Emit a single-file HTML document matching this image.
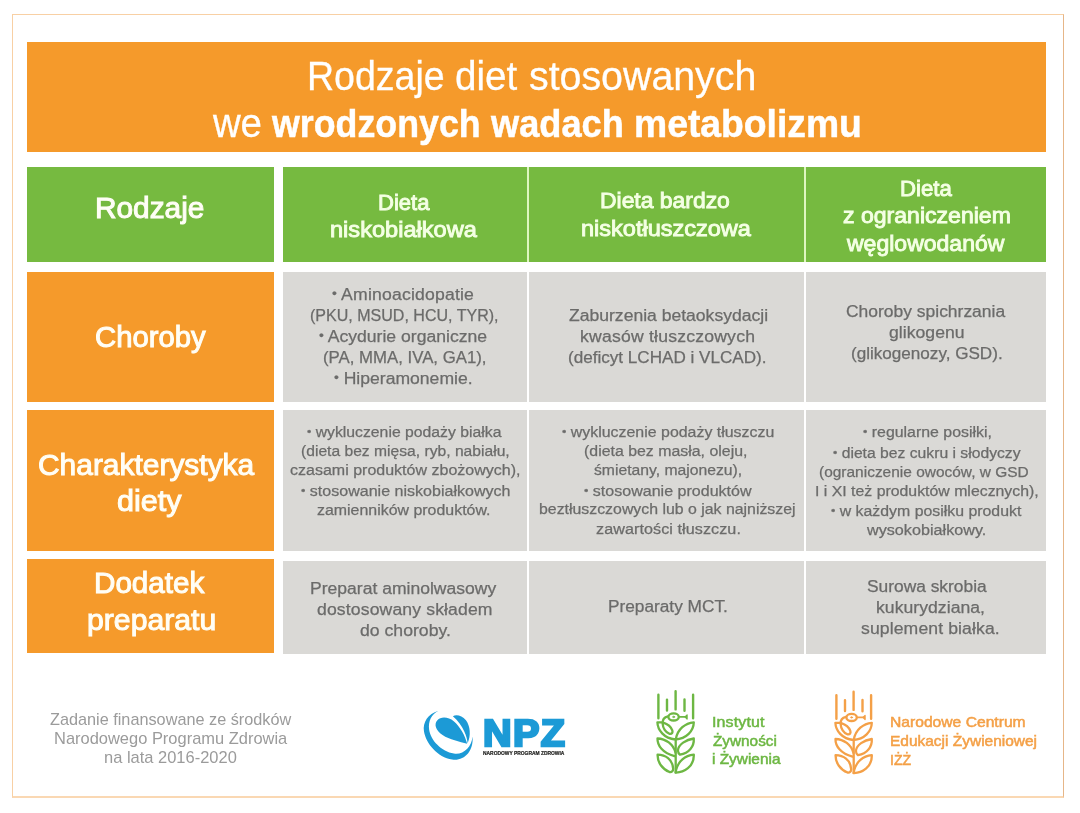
<!DOCTYPE html>
<html lang="pl"><head><meta charset="utf-8"><title>Rodzaje diet stosowanych we wrodzonych wadach metabolizmu</title>
<style>
*{margin:0;padding:0;box-sizing:border-box}
html,body{width:1080px;height:813px;background:#fff;overflow:hidden}
body{position:relative;font-family:"Liberation Sans",sans-serif}
.frame{position:absolute;left:12px;top:14px;width:1052px;height:784px;border:1px solid #f8d0a4;border-right-color:#e6b688;border-bottom:2px solid #fad8b3}
.bx{position:absolute}
.sep{background:#def6c0}.o{background:#f59a2b}.g{background:#76ba40}.s{background:#dad9d6}
.t{position:absolute;white-space:nowrap;line-height:1;font-weight:400;transform-origin:0 0}
.t i{font-style:normal;font-size:.78em;position:relative;top:-.15em}
.t b{font-weight:700}
.b{-webkit-text-stroke:.25px currentColor}
.tt{-webkit-text-stroke:.3px currentColor}
.tb{-webkit-text-stroke:.5px currentColor}
.npz{font-weight:700;-webkit-text-stroke:2.4px currentColor}
.tiny{font-weight:700;-webkit-text-stroke:.2px currentColor}
.lg{-webkit-text-stroke:.5px currentColor}
.m{-webkit-text-stroke:.9px currentColor}
.m2{-webkit-text-stroke:1px currentColor}
</style></head><body>
<div class="frame"></div>
<div class="bx sep" style="left:527px;top:167px;width:2px;height:95px"></div>
<div class="bx sep" style="left:804px;top:167px;width:2px;height:95px"></div>
<div class="bx o" style="left:27px;top:42px;width:1019px;height:109.5px"></div>
<div class="bx g" style="left:27px;top:167px;width:247px;height:95px"></div>
<div class="bx g" style="left:283px;top:167px;width:244px;height:95px"></div>
<div class="bx g" style="left:529px;top:167px;width:275px;height:95px"></div>
<div class="bx g" style="left:806px;top:167px;width:240px;height:95px"></div>
<div class="bx o" style="left:27px;top:272px;width:247px;height:130px"></div>
<div class="bx s" style="left:283px;top:272px;width:244px;height:130px"></div>
<div class="bx s" style="left:529px;top:272px;width:275px;height:130px"></div>
<div class="bx s" style="left:806px;top:272px;width:240px;height:130px"></div>
<div class="bx o" style="left:27px;top:410px;width:247px;height:141px"></div>
<div class="bx s" style="left:283px;top:410px;width:244px;height:141px"></div>
<div class="bx s" style="left:529px;top:410px;width:275px;height:141px"></div>
<div class="bx s" style="left:806px;top:410px;width:240px;height:141px"></div>
<div class="bx o" style="left:27px;top:559px;width:247px;height:94px"></div>
<div class="bx s" style="left:283px;top:560.5px;width:244px;height:93px"></div>
<div class="bx s" style="left:529px;top:560.5px;width:275px;height:93px"></div>
<div class="bx s" style="left:806px;top:560.5px;width:240px;height:93px"></div>
<div class="t tt" style="left:306.5px;top:56.0px;font-size:40px;letter-spacing:0.00px;color:#ffffff;transform:scaleX(0.938)">Rodzaje</div>
<div class="t tt" style="left:454.8px;top:56.0px;font-size:40px;letter-spacing:0.00px;color:#ffffff;transform:scaleX(0.964)">diet</div>
<div class="t tt" style="left:529.0px;top:56.0px;font-size:40px;letter-spacing:0.00px;color:#ffffff;transform:scaleX(0.983)">stosowanych</div>
<div class="t tt" style="left:212.5px;top:103.0px;font-size:40px;letter-spacing:-0.21px;color:#ffffff;transform:scaleX(0.960)">we</div>
<div class="t tb" style="left:271.7px;top:104.0px;font-size:39px;letter-spacing:0.00px;color:#ffffff;transform:scaleX(0.917)"><b>wrodzonych</b></div>
<div class="t tb" style="left:491.1px;top:104.0px;font-size:39px;letter-spacing:0.00px;color:#ffffff;transform:scaleX(0.928)"><b>wadach</b></div>
<div class="t tb" style="left:634.4px;top:104.0px;font-size:39px;letter-spacing:0.00px;color:#ffffff;transform:scaleX(0.956)"><b>metabolizmu</b></div>
<div class="t m" style="left:377.9px;top:192.0px;font-size:22px;letter-spacing:0.00px;color:#f4ffe4;transform:scaleX(1.002)">Dieta</div>
<div class="t m" style="left:329.9px;top:219.0px;font-size:22px;letter-spacing:0.00px;color:#f4ffe4;transform:scaleX(1.072)">niskobiałkowa</div>
<div class="t m" style="left:600.4px;top:190.0px;font-size:22px;letter-spacing:-0.00px;color:#f4ffe4;transform:scaleX(1.041)">Dieta bardzo</div>
<div class="t m" style="left:581.4px;top:218.0px;font-size:22px;letter-spacing:0.00px;color:#f4ffe4;transform:scaleX(1.069)">niskotłuszczowa</div>
<div class="t m" style="left:899.6px;top:178.0px;font-size:22px;letter-spacing:0.00px;color:#f4ffe4;transform:scaleX(1.008)">Dieta</div>
<div class="t m" style="left:842.8px;top:205.0px;font-size:22px;letter-spacing:0.00px;color:#f4ffe4;transform:scaleX(1.048)">z ograniczeniem</div>
<div class="t m" style="left:847.4px;top:233.0px;font-size:22px;letter-spacing:0.00px;color:#f4ffe4;transform:scaleX(1.046)">węglowodanów</div>
<div class="t m2" style="left:95.4px;top:194.0px;font-size:29px;letter-spacing:0.00px;color:#fffef6;transform:scaleX(1.028)">Rodzaje</div>
<div class="t m2" style="left:94.6px;top:323.0px;font-size:29px;letter-spacing:0.00px;color:#fffef6;transform:scaleX(1.009)">Choroby</div>
<div class="t m2" style="left:37.7px;top:451.0px;font-size:29px;letter-spacing:0.00px;color:#fffef6;transform:scaleX(1.032)">Charakterystyka</div>
<div class="t m2" style="left:117.2px;top:487.0px;font-size:29px;letter-spacing:0.00px;color:#fffef6;transform:scaleX(1.052)">diety</div>
<div class="t m2" style="left:94.4px;top:569.0px;font-size:29px;letter-spacing:0.00px;color:#fffef6;transform:scaleX(1.021)">Dodatek</div>
<div class="t m2" style="left:86.5px;top:606.0px;font-size:29px;letter-spacing:0.00px;color:#fffef6;transform:scaleX(1.041)">preparatu</div>
<div class="t b" style="left:332.3px;top:287.0px;font-size:16px;letter-spacing:0.17px;color:#6b6b6a;transform:scaleX(1.100)"><i>•</i> Aminoacidopatie</div>
<div class="t b" style="left:310.2px;top:308.0px;font-size:16px;letter-spacing:-0.00px;color:#6b6b6a;transform:scaleX(1.002)">(PKU, MSUD, HCU, TYR),</div>
<div class="t b" style="left:319.2px;top:329.0px;font-size:16px;letter-spacing:0.00px;color:#6b6b6a;transform:scaleX(1.099)"><i>•</i> Acydurie organiczne</div>
<div class="t b" style="left:322.7px;top:350.0px;font-size:16px;letter-spacing:0.00px;color:#6b6b6a;transform:scaleX(1.049)">(PA, MMA, IVA, GA1),</div>
<div class="t b" style="left:333.8px;top:371.0px;font-size:16px;letter-spacing:0.00px;color:#6b6b6a;transform:scaleX(1.098)"><i>•</i> Hiperamonemie.</div>
<div class="t b" style="left:568.5px;top:308.0px;font-size:16px;letter-spacing:0.00px;color:#6b6b6a;transform:scaleX(1.097)">Zaburzenia betaoksydacji</div>
<div class="t b" style="left:580.1px;top:329.0px;font-size:16px;letter-spacing:0.19px;color:#6b6b6a;transform:scaleX(1.100)">kwasów tłuszczowych</div>
<div class="t b" style="left:568.1px;top:350.0px;font-size:16px;letter-spacing:0.00px;color:#6b6b6a;transform:scaleX(1.068)">(deficyt LCHAD i VLCAD).</div>
<div class="t b" style="left:846.0px;top:304.0px;font-size:16px;letter-spacing:0.00px;color:#6b6b6a;transform:scaleX(1.091)">Choroby spichrzania</div>
<div class="t b" style="left:888.7px;top:325.0px;font-size:16px;letter-spacing:0.03px;color:#6b6b6a;transform:scaleX(1.100)">glikogenu</div>
<div class="t b" style="left:850.5px;top:346.0px;font-size:16px;letter-spacing:0.00px;color:#6b6b6a;transform:scaleX(1.068)">(glikogenozy, GSD).</div>
<div class="t b" style="left:307.4px;top:425.0px;font-size:14.7px;letter-spacing:0.00px;color:#6b6b6a;transform:scaleX(1.073)"><i>•</i> wykluczenie podaży białka</div>
<div class="t b" style="left:301.1px;top:444.0px;font-size:14.7px;letter-spacing:0.00px;color:#6b6b6a;transform:scaleX(1.065)">(dieta bez mięsa, ryb, nabiału,</div>
<div class="t b" style="left:290.2px;top:463.0px;font-size:14.7px;letter-spacing:0.00px;color:#6b6b6a;transform:scaleX(1.090)">czasami produktów zbożowych),</div>
<div class="t b" style="left:301.1px;top:484.0px;font-size:14.7px;letter-spacing:0.00px;color:#6b6b6a;transform:scaleX(1.092)"><i>•</i> stosowanie niskobiałkowych</div>
<div class="t b" style="left:317.3px;top:503.0px;font-size:14.7px;letter-spacing:0.00px;color:#6b6b6a;transform:scaleX(1.084)">zamienników produktów.</div>
<div class="t b" style="left:562.1px;top:425.0px;font-size:14.7px;letter-spacing:0.00px;color:#6b6b6a;transform:scaleX(1.084)"><i>•</i> wykluczenie podaży tłuszczu</div>
<div class="t b" style="left:584.4px;top:444.0px;font-size:14.7px;letter-spacing:0.00px;color:#6b6b6a;transform:scaleX(1.082)">(dieta bez masła, oleju,</div>
<div class="t b" style="left:593.9px;top:463.0px;font-size:14.7px;letter-spacing:0.00px;color:#6b6b6a;transform:scaleX(1.070)">śmietany, majonezu),</div>
<div class="t b" style="left:583.7px;top:484.0px;font-size:14.7px;letter-spacing:0.00px;color:#6b6b6a;transform:scaleX(1.092)"><i>•</i> stosowanie produktów</div>
<div class="t b" style="left:538.6px;top:502.0px;font-size:14.7px;letter-spacing:-0.00px;color:#6b6b6a;transform:scaleX(1.080)">beztłuszczowych lub o jak najniższej</div>
<div class="t b" style="left:595.7px;top:522.0px;font-size:14.7px;letter-spacing:0.06px;color:#6b6b6a;transform:scaleX(1.100)">zawartości tłuszczu.</div>
<div class="t b" style="left:862.7px;top:425.0px;font-size:14.7px;letter-spacing:0.00px;color:#6b6b6a;transform:scaleX(1.082)"><i>•</i> regularne posiłki,</div>
<div class="t b" style="left:832.7px;top:446.0px;font-size:14.7px;letter-spacing:0.00px;color:#6b6b6a;transform:scaleX(1.069)"><i>•</i> dieta bez cukru i słodyczy</div>
<div class="t b" style="left:818.7px;top:465.0px;font-size:14.7px;letter-spacing:-0.00px;color:#6b6b6a;transform:scaleX(1.053)">(ograniczenie owoców, w GSD</div>
<div class="t b" style="left:814.9px;top:484.0px;font-size:14.7px;letter-spacing:0.00px;color:#6b6b6a;transform:scaleX(1.079)">I i XI też produktów mlecznych),</div>
<div class="t b" style="left:830.9px;top:504.0px;font-size:14.7px;letter-spacing:0.00px;color:#6b6b6a;transform:scaleX(1.080)"><i>•</i> w każdym posiłku produkt</div>
<div class="t b" style="left:867.1px;top:523.0px;font-size:14.7px;letter-spacing:0.01px;color:#6b6b6a;transform:scaleX(1.100)">wysokobiałkowy.</div>
<div class="t b" style="left:310.1px;top:581.0px;font-size:16px;letter-spacing:0.00px;color:#6b6b6a;transform:scaleX(1.096)">Preparat aminolwasowy</div>
<div class="t b" style="left:316.9px;top:602.0px;font-size:16px;letter-spacing:0.12px;color:#6b6b6a;transform:scaleX(1.100)">dostosowany składem</div>
<div class="t b" style="left:359.8px;top:623.0px;font-size:16px;letter-spacing:0.02px;color:#6b6b6a;transform:scaleX(1.100)">do choroby.</div>
<div class="t b" style="left:608.1px;top:599.0px;font-size:16px;letter-spacing:-0.00px;color:#6b6b6a;transform:scaleX(1.078)">Preparaty MCT.</div>
<div class="t b" style="left:866.7px;top:579.0px;font-size:16px;letter-spacing:0.00px;color:#6b6b6a;transform:scaleX(1.085)">Surowa skrobia</div>
<div class="t b" style="left:875.6px;top:600.0px;font-size:16px;letter-spacing:0.03px;color:#6b6b6a;transform:scaleX(1.100)">kukurydziana,</div>
<div class="t b" style="left:861.1px;top:621.0px;font-size:16px;letter-spacing:0.10px;color:#6b6b6a;transform:scaleX(1.100)">suplement białka.</div>
<div class="t lt" style="left:49.6px;top:712.0px;font-size:15.7px;letter-spacing:0.00px;color:#9b9b9b;transform:scaleX(1.036)">Zadanie finansowane ze środków</div>
<div class="t lt" style="left:53.9px;top:731.0px;font-size:15.7px;letter-spacing:0.00px;color:#9b9b9b;transform:scaleX(1.049)">Narodowego Programu Zdrowia</div>
<div class="t lt" style="left:104.0px;top:750.0px;font-size:15.7px;letter-spacing:0.00px;color:#9b9b9b;transform:scaleX(1.050)">na lata 2016-2020</div>
<div class="t npz" style="left:483.1px;top:716.0px;font-size:36px;letter-spacing:1.23px;color:#1c9ad6;transform:scaleX(1.100)">NPZ</div>
<div class="t tiny" style="left:483.3px;top:751.0px;font-size:5px;letter-spacing:0.00px;color:#1d1d1b;transform:scaleX(0.981)">NARODOWY PROGRAM ZDROWIA</div>
<div class="t lg" style="left:712.2px;top:715.0px;font-size:14.5px;letter-spacing:0.14px;color:#6db743;transform:scaleX(1.100)">Instytut</div>
<div class="t lg" style="left:713.3px;top:734.0px;font-size:14.5px;letter-spacing:0.00px;color:#6db743;transform:scaleX(1.057)">Żywności</div>
<div class="t lg" style="left:712.2px;top:752.0px;font-size:14.5px;letter-spacing:0.00px;color:#6db743;transform:scaleX(1.062)">i Żywienia</div>
<div class="t lg" style="left:889.6px;top:715.0px;font-size:14.5px;letter-spacing:0.00px;color:#f4a047;transform:scaleX(1.079)">Narodowe Centrum</div>
<div class="t lg" style="left:889.6px;top:734.0px;font-size:14.5px;letter-spacing:0.00px;color:#f4a047;transform:scaleX(1.067)">Edukacji Żywieniowej</div>
<div class="t lg" style="left:889.7px;top:753.0px;font-size:14.5px;letter-spacing:0.00px;color:#f4a047;transform:scaleX(0.976)">IŻŻ</div>
<svg class="bx" style="left:0;top:0" width="1080" height="813" viewBox="0 0 1080 813">
<g transform="translate(415,700) scale(0.08610)" fill="#1c9ad6">
<path d="M272,124 C150,160 88,258 104,362 C126,502 262,664 432,692 C566,712 684,600 668,424 C660,548 560,640 452,622 C310,596 180,470 164,342 C152,244 192,162 272,124 Z"/>
<path d="M606,508 C520,482 400,462 320,406 C238,350 218,280 260,234 C300,190 390,196 450,246 C520,306 582,410 606,508 Z"/>
<path d="M440,188 C480,164 546,180 592,236 C642,300 652,420 611,502 C607,430 563,296 440,188 Z"/>
</g>
</svg>
<svg class="bx" style="left:0;top:0" width="1080" height="813" viewBox="0 0 1080 813">
<g stroke="#6db743" color="#6db743" fill="none" stroke-width="2.3" stroke-linecap="round" stroke-linejoin="round">
<path d="M658.4,694.8V718.3M667,699.6V710.6M675.6,691.3V709.4M684.5,699.4V710.8M693.1,694.8V718.3" stroke-width="2.4"/>
<ellipse cx="673.6" cy="716.9" rx="5.2" ry="3.6"/>
<ellipse cx="673.6" cy="716.9" rx="1" ry="0.7" fill="currentColor" stroke-width="0.8"/>
<path d="M679,716.9H685.4" stroke-width="1.8"/>
<path d="M685,716.9L687.1,714.8V719.1Z" fill="currentColor" stroke-width="1.2"/>
<path d="M668,716.4C664.5,717.2 662.4,720 662.6,723.5C662.9,728 665.5,732.8 669.6,733.8C672,734.3 673,732.3 672.3,730.3C671,726.8 667,723.8 663.2,722.6"/>
<path d="M662.4,722.4L657.4,722.3C657.6,730 664,738.5 675.3,739.5C686.5,738.8 693.6,731 693.8,722.3C685.5,723 677.5,729 675.7,739.5V772.4"/>
<path d="M674.5,756.2C662.6,753 657.3,745.6 657.5,738.5C665.8,738.8 673.2,744 675.5,752.5"/>
<path d="M693.8,738.5C685.9,739.6 678.5,744.5 677.9,750.3Q678,753.5 680,754.7C689,753 694.3,746.6 693.8,738.5Z"/>
<path d="M657.6,754.6C665.2,754.8 672.6,758.8 673.2,768.9Q673,772.5 669.5,772C662.6,769.4 657.3,762.5 657.6,754.6Z"/>
<path d="M693.8,754.6C685.9,755.4 677.4,760.4 675.6,772.6C683.7,772.8 694.3,766.7 693.8,754.6Z"/>
</g>
<g stroke="#f4a047" color="#f4a047" transform="translate(178,0.5)" fill="none" stroke-width="2.3" stroke-linecap="round" stroke-linejoin="round">
<path d="M658.4,694.8V718.3M667,699.6V710.6M675.6,691.3V709.4M684.5,699.4V710.8M693.1,694.8V718.3" stroke-width="2.4"/>
<ellipse cx="673.6" cy="716.9" rx="5.2" ry="3.6"/>
<ellipse cx="673.6" cy="716.9" rx="1" ry="0.7" fill="currentColor" stroke-width="0.8"/>
<path d="M679,716.9H685.4" stroke-width="1.8"/>
<path d="M685,716.9L687.1,714.8V719.1Z" fill="currentColor" stroke-width="1.2"/>
<path d="M668,716.4C664.5,717.2 662.4,720 662.6,723.5C662.9,728 665.5,732.8 669.6,733.8C672,734.3 673,732.3 672.3,730.3C671,726.8 667,723.8 663.2,722.6"/>
<path d="M662.4,722.4L657.4,722.3C657.6,730 664,738.5 675.3,739.5C686.5,738.8 693.6,731 693.8,722.3C685.5,723 677.5,729 675.7,739.5V772.4"/>
<path d="M674.5,756.2C662.6,753 657.3,745.6 657.5,738.5C665.8,738.8 673.2,744 675.5,752.5"/>
<path d="M693.8,738.5C685.9,739.6 678.5,744.5 677.9,750.3Q678,753.5 680,754.7C689,753 694.3,746.6 693.8,738.5Z"/>
<path d="M657.6,754.6C665.2,754.8 672.6,758.8 673.2,768.9Q673,772.5 669.5,772C662.6,769.4 657.3,762.5 657.6,754.6Z"/>
<path d="M693.8,754.6C685.9,755.4 677.4,760.4 675.6,772.6C683.7,772.8 694.3,766.7 693.8,754.6Z"/>
</g>
</svg>
</body></html>
